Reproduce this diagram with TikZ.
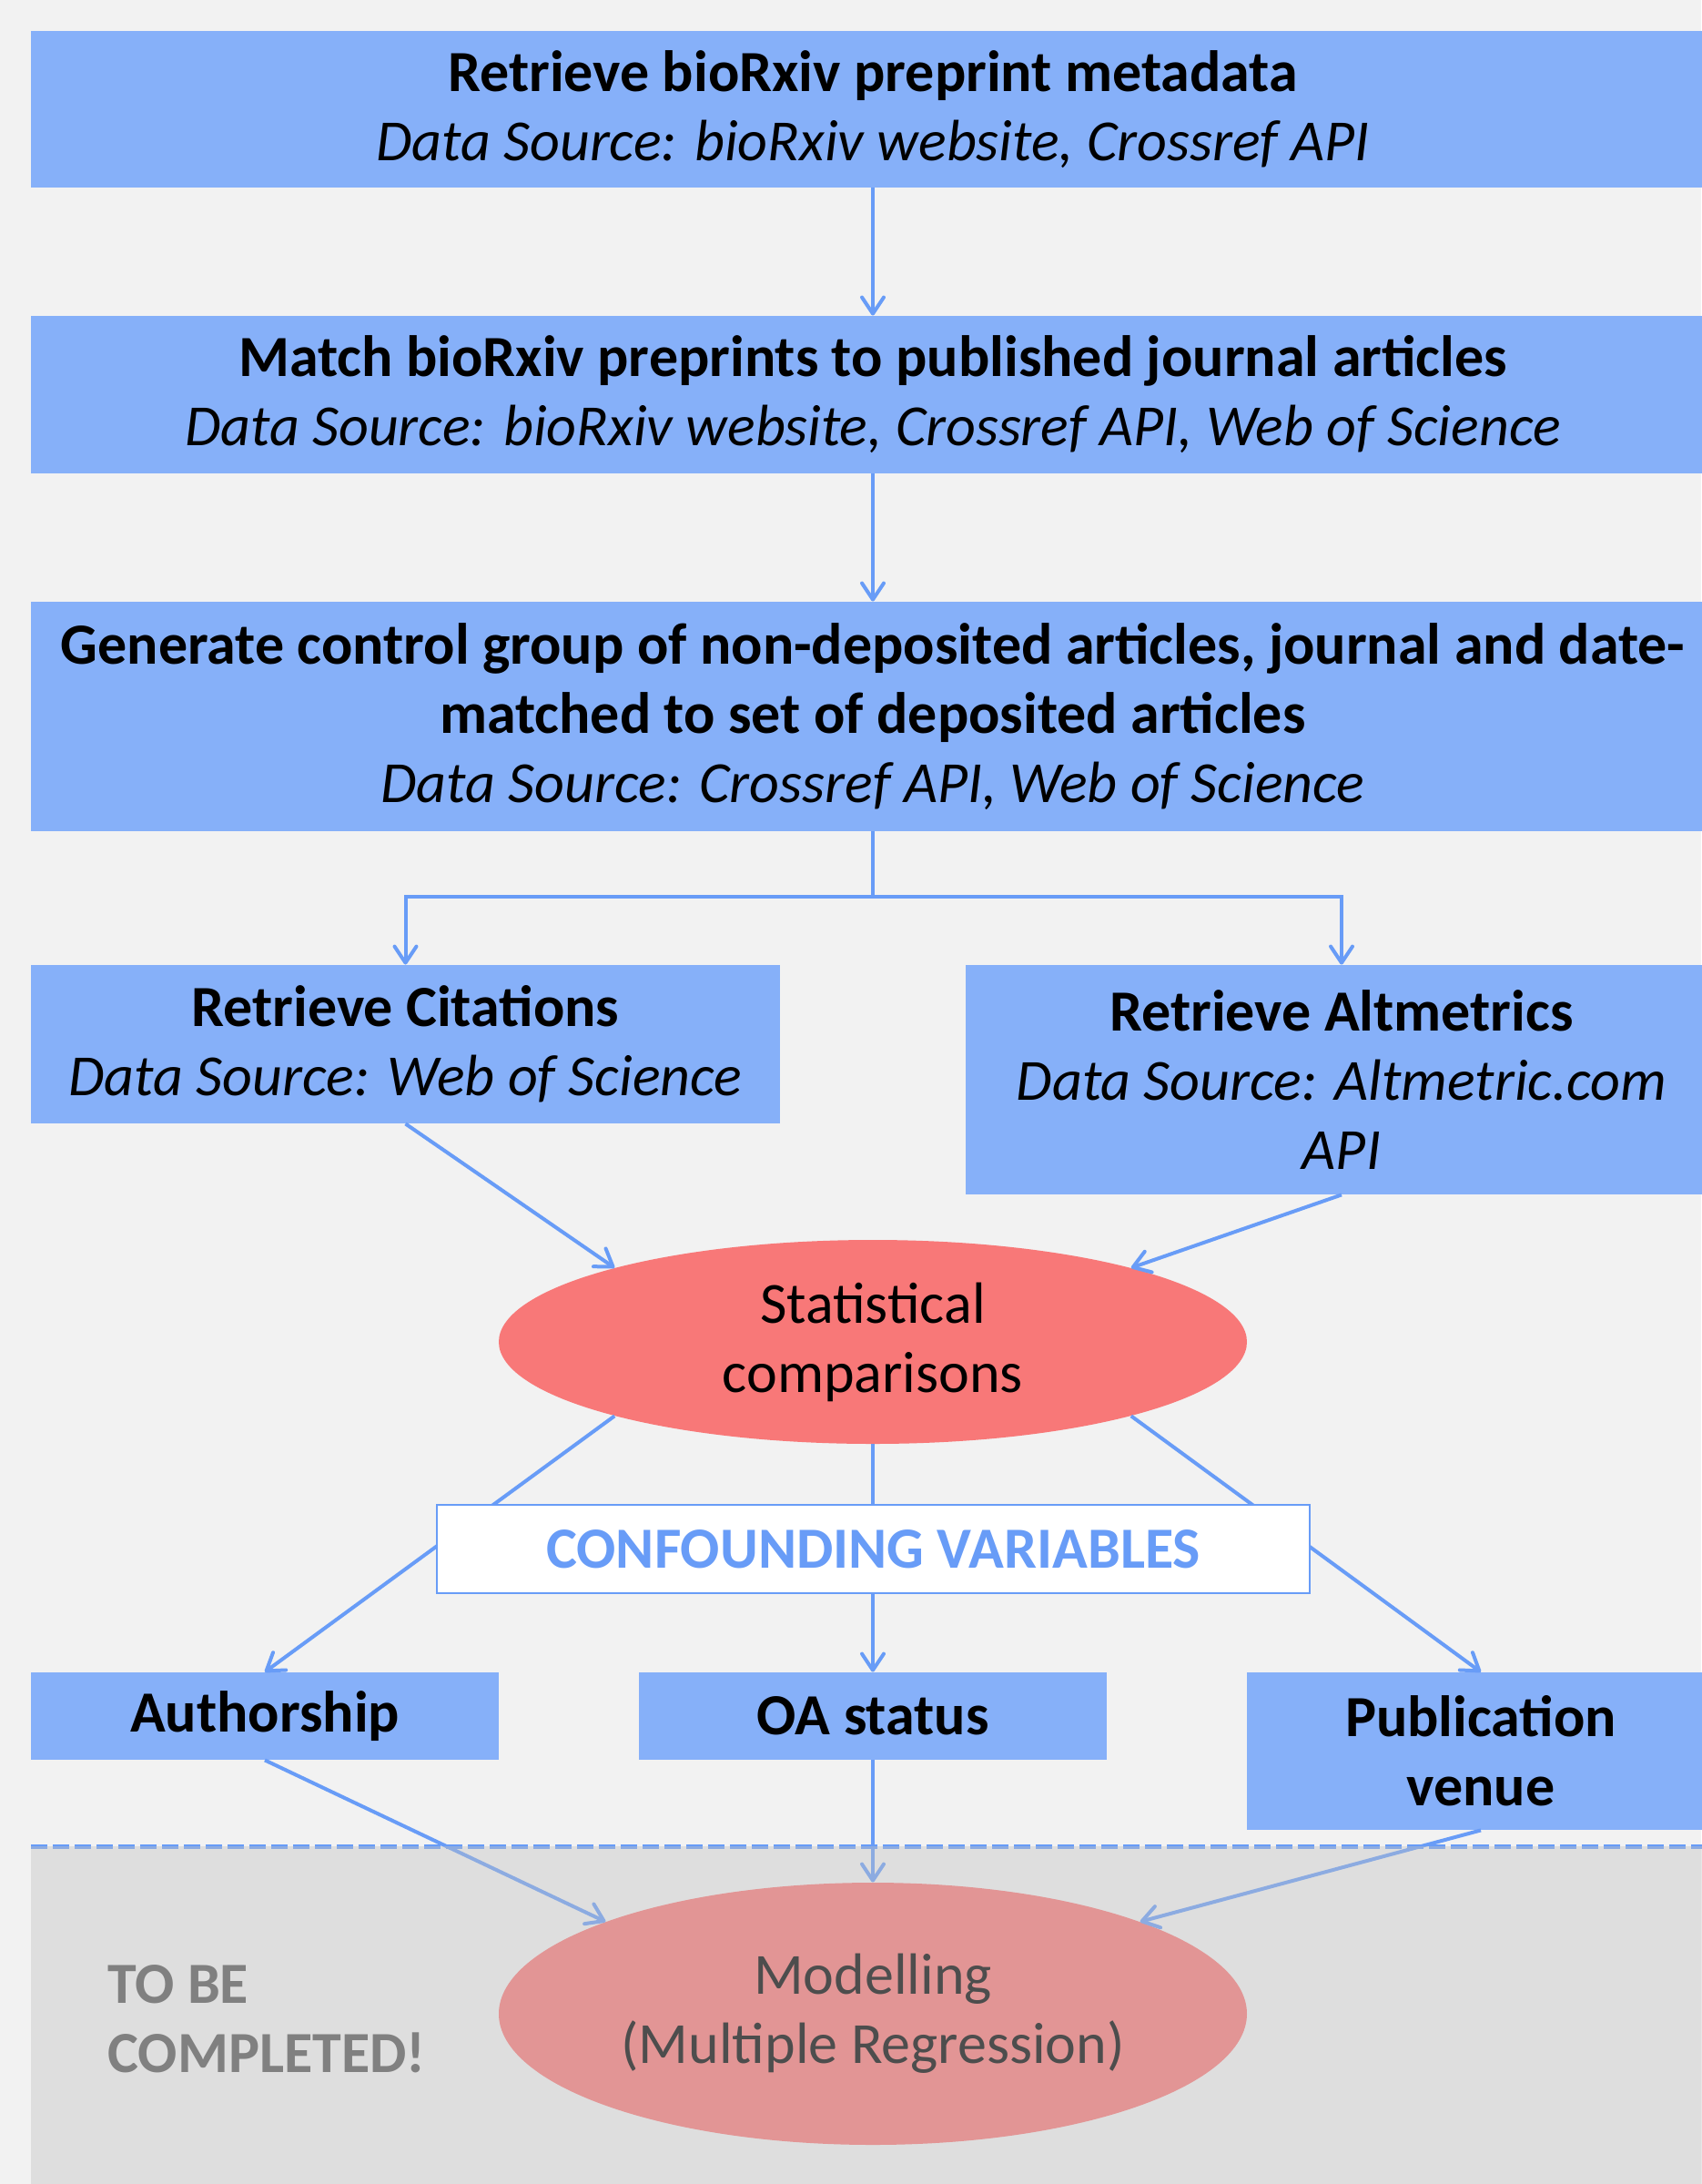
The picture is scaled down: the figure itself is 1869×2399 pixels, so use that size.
\documentclass[tikz,border=0pt]{standalone}
\usepackage{fontspec}
\setmainfont{Carlito}
\usetikzlibrary{arrows.meta,shapes.geometric}
\definecolor{boxblue}{RGB}{134,176,249}
\definecolor{lineblue}{RGB}{104,156,247}
\definecolor{statred}{RGB}{248,120,120}
\definecolor{pagegray}{RGB}{242,242,242}
\definecolor{fadegray}{RGB}{194,194,194}
\definecolor{notegray}{RGB}{128,128,128}
\tikzset{
  stepbox/.style={fill=boxblue, align=center, inner sep=0pt},
  flow/.style={lineblue, line width=2pt, -{Straight Barb[length=9pt,width=12pt,round]}},
  link/.style={lineblue, line width=2pt},
  oval/.style={ellipse, fill=statred, align=center, inner sep=0pt},
}

\begin{document}
\begin{tikzpicture}[x=0.5pt,y=-0.5pt,font=\fontsize{32}{38}\selectfont]
\useasboundingbox (0,0) rectangle (1869,2399);
\fill[pagegray] (0,0) rectangle (1869,2399);
% pipeline boxes
\node[stepbox, minimum width=925pt, minimum height=86pt] (meta) at (959,120)
  {\textbf{Retrieve bioRxiv preprint metadata}\\\textit{Data Source: bioRxiv website, Crossref API}};
\node[stepbox, minimum width=925pt, minimum height=86.5pt] (match) at (959,433.5)
  {\textbf{Match bioRxiv preprints to published journal articles}\\\textit{Data Source: bioRxiv website, Crossref API, Web of Science}};
\node[stepbox, minimum width=925pt, minimum height=126pt] (ctrl) at (959,787)
  {\textbf{Generate control group of non-deposited articles, journal and date-}\\\textbf{matched to set of deposited articles}\\\textit{Data Source: Crossref API, Web of Science}};
\node[stepbox, minimum width=411.5pt, minimum height=87pt] (cit) at (445.5,1147)
  {\textbf{Retrieve Citations}\\\textit{Data Source: Web of Science}};
\node[stepbox, minimum width=413pt, minimum height=126pt] (alt) at (1474,1186)
  {\textbf{Retrieve Altmetrics}\\\textit{Data Source: Altmetric.com}\\\textit{API}};
\coordinate (split) at (959,985);
\draw[flow] (meta.south) -- (match.north);
\draw[flow] (match.south) -- (ctrl.north);
\draw[link] (ctrl.south) -- (split);
\draw[flow] (split) -| (cit.north);
\draw[flow] (split) -| (alt.north);
% comparison
\node[oval, minimum width=411pt, minimum height=112pt] (stat) at (959,1474) {Statistical\\comparisons};
\draw[flow] (cit.south) -- (stat.164);
\draw[flow] (alt.south) -- (stat.16);
% confounders
\node[stepbox, minimum width=257pt, minimum height=48pt] (auth) at (291,1885) {\textbf{Authorship}};
\node[stepbox, minimum width=257pt, minimum height=48pt] (oa) at (959,1885) {\textbf{OA status}};
\node[stepbox, minimum width=257pt, minimum height=86.5pt] (venue) at (1627,1923.5) {\textbf{Publication}\\\textbf{venue}};
\draw[flow] (stat.196) -- (auth.north);
\draw[flow] (stat.south) -- (oa.north);
\draw[flow] (stat.344) -- (venue.north);
\node[draw=lineblue, line width=1pt, fill=white, minimum width=479.5pt, minimum height=48.5pt, inner sep=0pt]
  (conf) at (959.5,1701.5) {\textcolor{lineblue}{\textbf{CONFOUNDING VARIABLES}}};
% modelling (not done yet)
\node[oval, minimum width=411pt, minimum height=144pt] (model) at (959,2212) {Modelling\\(Multiple Regression)};
\draw[flow] (auth.south) -- (model.161);
\draw[flow] (oa.south) -- (model.north);
\draw[flow] (venue.south) -- (model.19);
\draw[lineblue, line width=2.5pt, dash pattern=on 9pt off 3pt] (34,2028) -- (1890,2028);
\fill[fadegray, opacity=0.4] (34,2028) rectangle (1890,2420);
\node[anchor=west, align=left, inner sep=0pt, text=notegray, font=\fontsize{32}{38}\selectfont\bfseries] (todo) at (118,2218) {TO BE\\COMPLETED!};
\end{tikzpicture}
\end{document}
